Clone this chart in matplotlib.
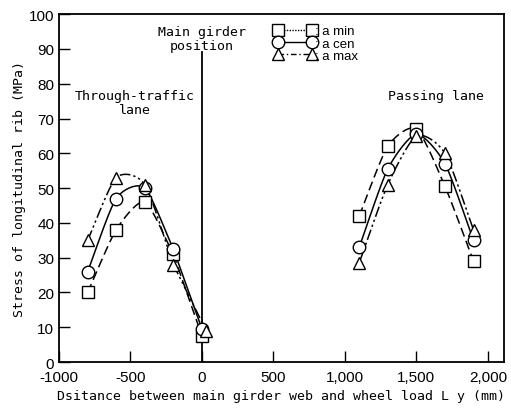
import numpy as np
import matplotlib
matplotlib.use("Agg")
import matplotlib.pyplot as plt
from matplotlib.lines import Line2D

# ---- data ----
x_left = [-800, -600, -400, -200, 0]
x_left_max = [-800, -600, -400, -200, 30]
x_right = [1100, 1300, 1500, 1700, 1900]

amin_left = [20, 38, 46, 31, 7.5]
acen_left = [26, 47, 50, 32.5, 9.5]
amax_left = [35, 53, 51, 28, 9]

amin_right = [42, 62, 67, 50.5, 29]
acen_right = [33, 55.5, 65.5, 57, 35]
amax_right = [28.5, 51, 65, 60, 38]

xticks = [-1000, -500, 0, 500, 1000, 1500, 2000]
xticklabels = ["-1000", "-500", "0", "500", "1,000", "1,500", "2,000"]
yticks = list(range(0, 101, 10))

series_labels = [": a min", ": a cen", ": a max"]


def smooth(xs, ys, n=20, tension=0.35):
    """Cardinal curve through the given points (for drawing only)."""
    xs = np.asarray(xs, float)
    ys = np.asarray(ys, float)
    P = np.column_stack([xs, ys])
    P = np.vstack([2 * P[0] - P[1], P, 2 * P[-1] - P[-2]])
    out = []
    for i in range(1, len(P) - 2):
        p0, p1, p2, p3 = P[i - 1], P[i], P[i + 1], P[i + 2]
        m1 = tension * (p2 - p0)
        m2 = tension * (p3 - p1)
        t = np.linspace(0, 1, n)[:, None]
        h00 = 2 * t**3 - 3 * t**2 + 1
        h10 = t**3 - 2 * t**2 + t
        h01 = -2 * t**3 + 3 * t**2
        h11 = t**3 - t**2
        c = h00 * p1 + h10 * m1 + h01 * p2 + h11 * m2
        out.append(c if i == len(P) - 3 else c[:-1])
    c = np.vstack(out)
    return c[:, 0], c[:, 1]


fig = plt.figure(figsize=(5.11, 4.10), dpi=100)
ax = fig.add_axes([0.1155, 0.1146, 0.8705, 0.8484])

styles = [
    dict(marker="s", ls=(0, (6, 3))),
    dict(marker="o", ls="-"),
    dict(marker="^", ls=(0, (7, 2, 1.5, 2, 1.5, 2))),
]
groups = [
    ([x_left, x_left, x_left_max], [amin_left, acen_left, amax_left]),
    ([x_right, x_right, x_right], [amin_right, acen_right, amax_right]),
]

# main girder line
ax.plot([0, 0], [0, 89], color="black", lw=1.3, zorder=2)

for xs_list, ys_list in groups:
    for xs, ys, st in zip(xs_list, ys_list, styles):
        if xs[0] < 0:
            sx, sy = smooth(xs[:4], ys[:4])
            ax.plot(sx, sy, color="black", lw=1.1, ls=st["ls"], zorder=3)
            ax.plot(xs[3:], ys[3:], color="black", lw=1.1, ls=st["ls"], zorder=3)
        else:
            sx, sy = smooth(xs, ys)
            ax.plot(sx, sy, color="black", lw=1.1, ls=st["ls"], zorder=3)
        ax.plot(xs, ys, ls="none", marker=st["marker"], ms=9, mfc="white",
                mec="black", mew=1.0, zorder=4)

ax.set_xlim(-1000, 2112)
ax.set_ylim(0, 100)
ax.set_xticks(xticks)
ax.set_xticklabels(xticklabels)
ax.set_yticks(yticks)
ax.tick_params(direction="in", length=8, width=1.0, labelsize=11)
ax.tick_params(axis="x", pad=5.5)
for lab in ax.get_xticklabels() + ax.get_yticklabels():
    lab.set_family("Liberation Sans")
for sp in ax.spines.values():
    sp.set_linewidth(1.3)

mono = "DejaVu Sans Mono"
ax.set_xlabel("Dsitance between main girder web and wheel load L y (mm)",
              family=mono, fontsize=9.5, labelpad=4)
ax.set_ylabel("Stress of longitudinal rib (MPa)", family=mono, fontsize=9.5,
              labelpad=2)

ax.text(0, 93, "Main girder\nposition", ha="center", va="center",
        family=mono, fontsize=9.5, linespacing=1.1)
ax.text(-470, 74.5, "Through-traffic\nlane", ha="center", va="center",
        family=mono, fontsize=9.5, linespacing=1.1)
ax.text(1640, 76.5, "Passing lane", ha="center", va="center",
        family=mono, fontsize=9.5)

handles = [
    Line2D([], [], color="black", lw=1.0, ls=(0, (1, 1)), marker="s", ms=9,
           mfc="white", mec="black"),
    Line2D([], [], color="black", lw=1.0, ls="-", marker="o", ms=9,
           mfc="white", mec="black"),
    Line2D([], [], color="black", lw=1.0, ls=(0, (4, 2, 1, 2)), marker="^", ms=9,
           mfc="white", mec="black"),
]
leg = ax.legend(handles, series_labels, loc="upper left",
                bbox_to_anchor=(0.462, 0.995), frameon=False, numpoints=2,
                handlelength=3.2, handletextpad=-0.1, labelspacing=0.0,
                borderpad=0.2, prop={"family": "Liberation Sans", "size": 9.5})

fig.savefig("out.png", dpi=100)
